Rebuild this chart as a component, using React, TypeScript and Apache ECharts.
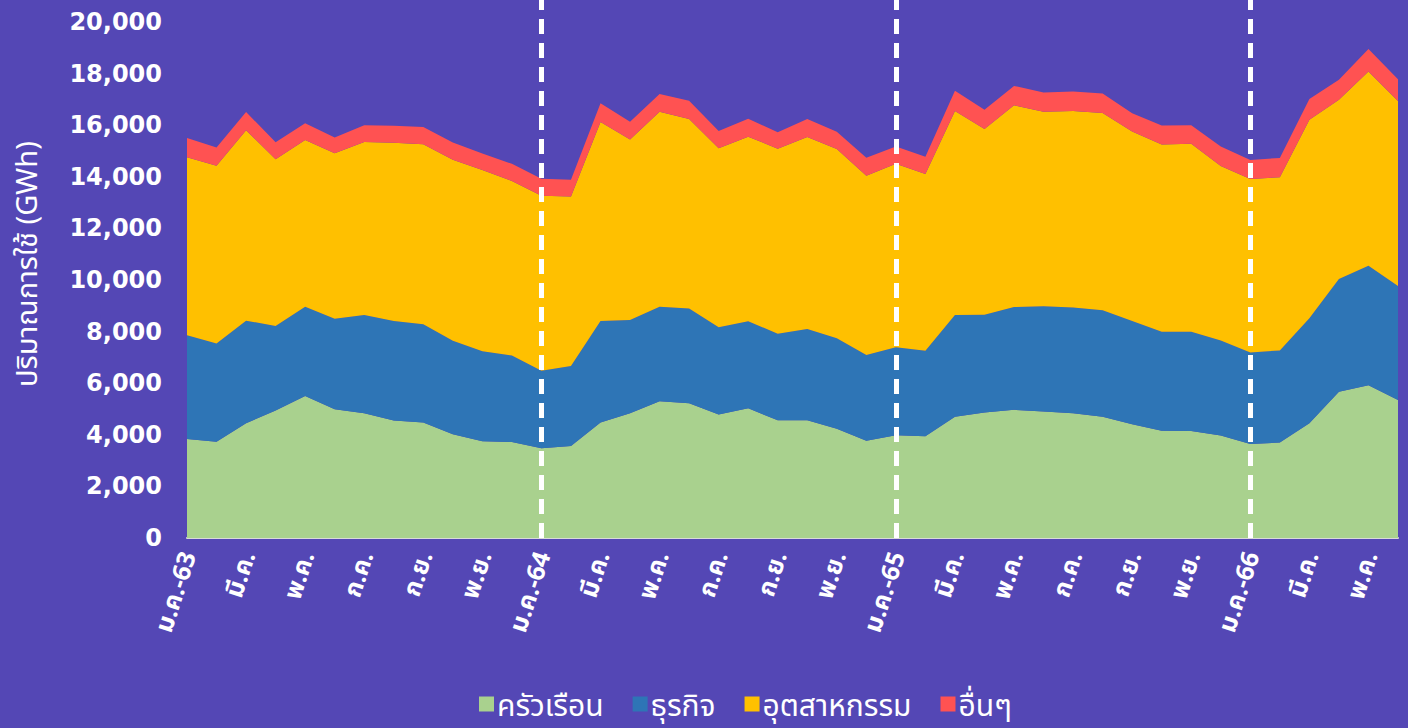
import React, { useEffect, useRef } from "react";
import * as echarts from "echarts";

const months = ["ม.ค.", "ก.พ.", "มี.ค.", "เม.ย.", "พ.ค.", "มิ.ย.", "ก.ค.", "ส.ค.", "ก.ย.", "ต.ค.", "พ.ย.", "ธ.ค."];
const years = ["63", "64", "65", "66"];
const categories: string[] = [];
years.forEach((y, yi) => {
  months.forEach((m, mi) => {
    if (yi === 3 && mi > 5) return;
    categories.push(mi === 0 ? `${m}-${y}` : m);
  });
});

const residential = [3840, 3730, 4450, 4940, 5500, 4990, 4830, 4550, 4480, 4020, 3750, 3720, 3480, 3570, 4480, 4830, 5300, 5220, 4790, 5030, 4560, 4560, 4230, 3770, 3980, 3940, 4700, 4860, 4970, 4900, 4830, 4700, 4410, 4160, 4150, 3970, 3640, 3700, 4450, 5670, 5920, 5350];
const business = [4020, 3810, 3970, 3280, 3460, 3510, 3810, 3860, 3800, 3620, 3490, 3350, 3000, 3100, 3930, 3620, 3660, 3670, 3380, 3370, 3360, 3540, 3510, 3320, 3410, 3320, 3940, 3790, 3980, 4080, 4100, 4130, 4000, 3830, 3840, 3680, 3550, 3570, 4070, 4370, 4630, 4420];
const industry = [6900, 6890, 7380, 6460, 6460, 6410, 6710, 6910, 6980, 7020, 7020, 6770, 6780, 6560, 7710, 6990, 7560, 7350, 6930, 7150, 7170, 7440, 7340, 6950, 7110, 6850, 7910, 7200, 7820, 7540, 7620, 7640, 7340, 7260, 7290, 6770, 6720, 6710, 7690, 6940, 7530, 7170];
const others = [740, 700, 710, 660, 650, 610, 650, 660, 670, 670, 640, 660, 660, 650, 730, 690, 690, 710, 670, 700, 630, 700, 660, 700, 670, 670, 780, 750, 750, 750, 750, 760, 710, 740, 720, 750, 740, 750, 800, 780, 870, 840];

const seriesNames = ["ครัวเรือน", "ธุรกิจ", "อุตสาหกรรม", "อื่นๆ"];
const seriesColors = ["#a9d18e", "#2e75b6", "#ffc000", "#ff5252"];
const yearMarks = ["ม.ค.-64", "ม.ค.-65", "ม.ค.-66"];
const yAxisName = "ปริมาณการใช้ (GWh)";

const FONT = "'Noto Sans', 'Noto Sans Thai', sans-serif";
const NUM_FONT = "'DejaVu Sans', 'Noto Sans', sans-serif";

export default function App() {
  const ref = useRef<HTMLDivElement>(null);
  useEffect(() => {
    if (!ref.current) return;
    const chart = echarts.init(ref.current, null, { renderer: "svg" });
    const data = [residential, business, industry, others];
    chart.setOption({
      animation: false,
      backgroundColor: "#5447b5",
      textStyle: { fontFamily: FONT },
      grid: { left: 187, right: 10, top: 0, bottom: 190, containLabel: false, outerBoundsMode: "none" },
      legend: {
        data: seriesNames,
        left: 474,
        bottom: 4,
        itemWidth: 15,
        itemHeight: 15,
        itemGap: 29,
        icon: "rect",
        textStyle: { color: "#ffffff", fontSize: 30, fontFamily: FONT, padding: [0, 0, 0, -2] },
      },
      xAxis: {
        type: "category",
        data: categories,
        boundaryGap: false,
        axisLine: { show: true, lineStyle: { color: "#d9d9d9", width: 2 } },
        axisTick: { show: false },
        axisLabel: {
          interval: 1,
          rotate: 72,
          margin: 14,
          color: "#ffffff",
          fontSize: 25,
          fontWeight: "bold",
          fontFamily: FONT,
        },
        splitLine: { show: false },
      },
      yAxis: {
        type: "value",
        min: 0,
        max: 20850,
        interval: 2000,
        name: yAxisName,
        nameLocation: "middle",
        nameGap: 147,
        nameTextStyle: {
          color: "#ffffff",
          fontSize: 29,
          fontWeight: "normal",
          fontFamily: FONT,
          padding: [0, 0, 0, 10],
        },
        axisLine: { show: false },
        axisTick: { show: false },
        splitLine: { show: false },
        axisLabel: {
          showMaxLabel: false,
          margin: 25,
          color: "#ffffff",
          fontSize: 24,
          fontWeight: "bold",
          fontFamily: NUM_FONT,
          formatter: (v: number) => (v > 20000 ? "" : v.toLocaleString("en-US")),
        },
      },
      series: seriesNames.map((name, i) => ({
        name,
        type: "line",
        stack: "total",
        data: data[i],
        showSymbol: false,
        symbol: "none",
        lineStyle: { width: 0 },
        itemStyle: { color: seriesColors[i] },
        areaStyle: { color: seriesColors[i], opacity: 1 },
        z: 2,
        markLine:
          i === 3
            ? {
                silent: true,
                symbol: "none",
                label: { show: false },
                lineStyle: { color: "#ffffff", width: 5, type: [15, 9] },
                data: yearMarks.map((m) => ({ xAxis: m })),
              }
            : undefined,
      })),
    });
    return () => chart.dispose();
  }, []);
  return (
    <div
      ref={ref}
      style={{ position: "fixed", left: 0, top: 0, width: 1408, height: 728 }}
    />
  );
}
